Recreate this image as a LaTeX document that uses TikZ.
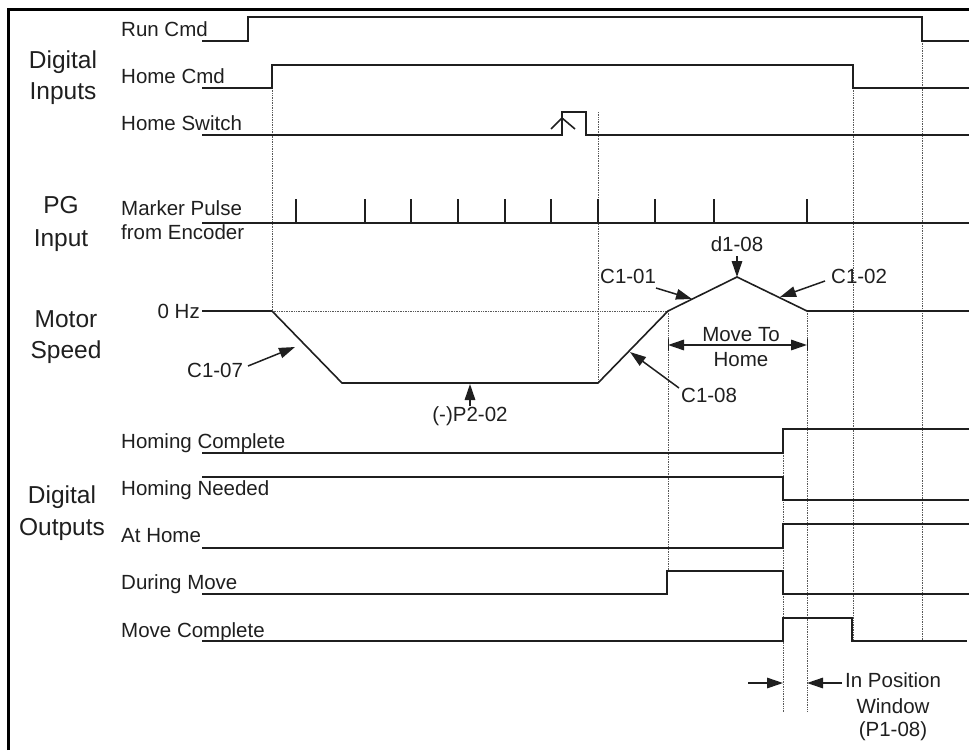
\documentclass[tikz,border=0pt]{standalone}
\usepackage{fontspec}
\setmainfont{Liberation Sans}
\usetikzlibrary{arrows.meta}
\begin{document}
\begin{tikzpicture}[x=1pt,y=-1pt,
  sig/.style={line width=1.6pt, draw=black!88, line join=miter},
  guide/.style={densely dotted, line width=0.7pt, draw=black!65},
  lbl/.style={font=\fontsize{20.5}{23}\selectfont, inner sep=0pt, anchor=base west, text=black!88},
  ann/.style={font=\fontsize{20.5}{23}\selectfont, inner sep=0pt, text=black!88},
  grp/.style={font=\fontsize{24.5}{27}\selectfont, inner sep=0pt, anchor=base, text=black!88},
  pnt/.style={line width=1.5pt, draw=black!88, -{Triangle[length=16pt,width=10.5pt]}},
  dimarr/.style={line width=1.5pt, draw=black!88, {Triangle[length=16pt,width=10.5pt]}-{Triangle[length=16pt,width=10.5pt]}},
]
\useasboundingbox (0,0) rectangle (969,750);
% frame
\draw[line width=3pt, black] (8.5,750) -- (8.5,9.7) -- (969,9.7);

% guides
\draw[guide] (272,88) -- (272,311);
\draw[guide] (598,112) -- (598,383);
\draw[guide] (272,311) -- (668,311);
\draw[guide] (668,311) -- (668,571);
\draw[guide] (807,311) -- (807,712);
\draw[guide] (783,429) -- (783,712);
\draw[guide] (853,88) -- (853,641);
\draw[guide] (922,41) -- (922,641);

% group labels
\node[grp] (gdi1) at (63,68) {Digital};
\node[grp] (gdi2) at (63,99) {Inputs};
\node[grp] (gpg1) at (61,213) {PG};
\node[grp] (gpg2) at (61,246) {Input};
\node[grp] (gms1) at (66,327) {Motor};
\node[grp] (gms2) at (66,358) {Speed};
\node[grp] (gdo1) at (62,503) {Digital};
\node[grp] (gdo2) at (62,535) {Outputs};

% signal labels
\node[lbl] (lrun) at (121,36) {Run Cmd};
\node[lbl] (lhome) at (121,83) {Home Cmd};
\node[lbl] (lsw) at (121,130) {Home Switch};
\node[lbl] (lmp1) at (121,215) {Marker Pulse};
\node[lbl] (lmp2) at (121,239) {from Encoder};
\node[lbl] (lhc) at (121,448) {Homing Complete};
\node[lbl] (lhn) at (121,495) {Homing Needed};
\node[lbl] (lah) at (121,542) {At Home};
\node[lbl] (ldm) at (121,589) {During Move};
\node[lbl] (lmc) at (121,637) {Move Complete};

% digital inputs
\draw[sig] (202,41) -- (248,41) -- (248,17) -- (922,17) -- (922,41) -- (969,41);
\draw[sig] (202,88) -- (272,88) -- (272,65) -- (853,65) -- (853,88) -- (969,88);
\draw[sig] (202,135) -- (562,135) -- (562,112) -- (586,112) -- (586,135) -- (969,135);
\draw[sig] (551,129) -- (562,118) -- (575,129);

% marker pulses
\draw[sig] (202,223) -- (969,223);
\foreach \t in {296,365,411,458,505,551,598,655,714,807}
  \draw[sig] (\t,223) -- (\t,199);

% motor speed
\node[ann, anchor=base east] (l0hz) at (200,318) {0 Hz};
\draw[sig] (202,311) -- (272,311) -- (342,383) -- (598,383) -- (668,311) -- (737,277) -- (807,311) -- (969,311);

\node[ann, anchor=base west] (lc107) at (187,377) {C1-07};
\coordinate (s107) at (248,366); \coordinate (t107) at (295,347);
\draw[pnt] (s107) -- (t107);

\node[ann, anchor=base] (lp202) at (470,421) {(-)P2-02};
\coordinate (s202) at (470,406); \coordinate (t202) at (470,384);
\draw[pnt] (s202) -- (t202);

\node[ann, anchor=base west] (lc108) at (681,402) {C1-08};
\coordinate (s108) at (679,388); \coordinate (t108) at (630,352);
\draw[pnt] (s108) -- (t108);

\node[ann, anchor=base west] (lc101) at (600,283) {C1-01};
\coordinate (s101) at (656,288); \coordinate (t101) at (692,299);
\draw[pnt] (s101) -- (t101);

\node[ann, anchor=base] (ld108) at (737,251) {d1-08};
\coordinate (sd108) at (737,256); \coordinate (td108) at (737,277);
\draw[pnt] (sd108) -- (td108);

\node[ann, anchor=base west] (lc102) at (831,283) {C1-02};
\coordinate (s102) at (825,281); \coordinate (t102) at (780,297);
\draw[pnt] (s102) -- (t102);

\node[ann, anchor=base] (lmth1) at (741,341) {Move To};
\node[ann, anchor=base] (lmth2) at (741,366) {Home};
\coordinate (mth1) at (668,345); \coordinate (mth2) at (807,345);
\draw[dimarr] (mth1) -- (mth2);
\draw[line width=1pt, black!88] (668,339) -- (668,351) (807,339) -- (807,351);

% digital outputs
\draw[sig] (202,453) -- (783,453) -- (783,429) -- (969,429);
\draw[sig] (202,477) -- (783,477) -- (783,500) -- (969,500);
\draw[sig] (202,548) -- (783,548) -- (783,524) -- (969,524);
\draw[sig] (202,594) -- (667,594) -- (667,571) -- (783,571) -- (783,594) -- (969,594);
\draw[sig] (202,641) -- (783,641) -- (783,618) -- (852,618) -- (852,641) -- (967,641);

% in position window
\coordinate (ipa) at (748,683); \coordinate (ipb) at (783,683);
\coordinate (ipc) at (842,683); \coordinate (ipd) at (807,683);
\draw[pnt] (ipa) -- (ipb);
\draw[pnt] (ipc) -- (ipd);
\node[ann, anchor=base west] (lip1) at (845,687) {In Position};
\node[ann, anchor=base] (lip2) at (893,713) {Window};
\node[ann, anchor=base] (lip3) at (893,736) {(P1-08)};
\end{tikzpicture}
\end{document}
